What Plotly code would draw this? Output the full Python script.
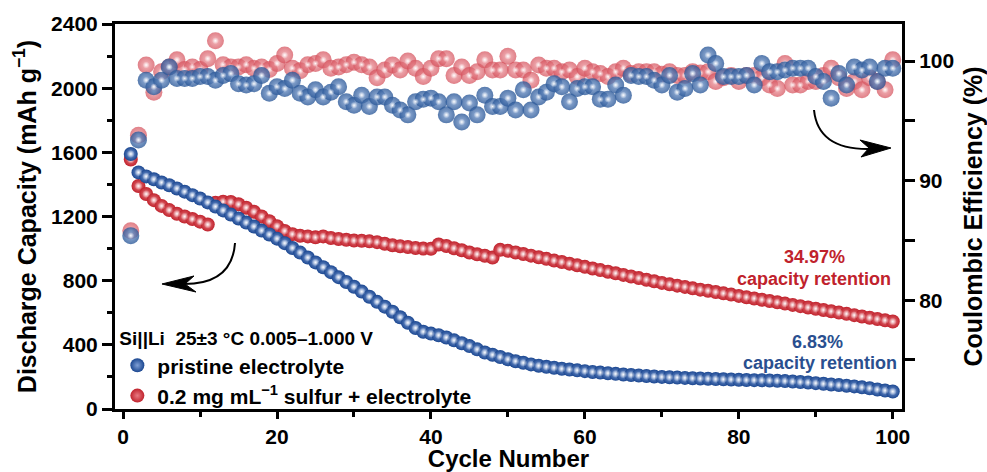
import plotly.graph_objects as go

# ---------------- data ----------------
cycles = list(range(1, 101))

cap_pristine = [
    1590, 1475, 1450, 1432, 1412, 1395, 1375, 1355, 1333, 1312,
    1288, 1262, 1238, 1212, 1188, 1162, 1138, 1112, 1088, 1062,
    1034, 1004, 975, 944, 914, 884, 853, 822, 792, 762,
    732, 700, 668, 638, 606, 572, 538, 505, 482, 470,
    460, 446, 428, 410, 392, 372, 352, 338, 324, 310,
    298, 288, 278, 270, 263, 257, 251, 246, 241, 236,
    231, 227, 223, 219, 215, 212, 209, 206, 203, 200,
    198, 196, 194, 192, 190, 189, 187, 185, 184, 182,
    181, 180, 179, 178, 176, 174, 171, 168, 165, 161,
    157, 153, 149, 145, 141, 135, 129, 122, 115, 109,
]

cap_sulfur = [
    1555, 1390, 1340, 1302, 1266, 1240, 1217, 1200, 1184, 1168,
    1150, 1285, 1292, 1290, 1276, 1255, 1230, 1200, 1170, 1140,
    1110, 1090, 1080, 1076, 1070, 1076, 1066, 1060, 1055, 1050,
    1049, 1045, 1040, 1030, 1021, 1015, 1010, 1004, 1000, 999,
    1025, 1016, 1002, 990, 976, 965, 955, 944, 992, 986,
    976, 966, 956, 946, 936, 925, 916, 906, 896, 886,
    876, 866, 856, 846, 836, 826, 816, 806, 796, 786,
    777, 769, 761, 752, 744, 737, 729, 721, 713, 705,
    697, 689, 681, 673, 665, 657, 649, 641, 633, 625,
    617, 609, 601, 593, 585, 577, 569, 561, 553, 545,
]

ce_pristine = [
    85.4, 93.4, 98.4, 97.85, 98.4, 99.5, 98.55, 98.55, 98.55, 98.7,
    98.7, 98.4, 98.8, 98.95, 98.1, 98.0, 98.1, 98.8, 97.3, 97.85,
    97.7, 98.4, 97.3, 97.0, 97.6, 97.0, 97.4, 97.85, 96.6, 96.3,
    97.15, 96.2, 97.0, 97.0, 96.3, 95.9, 95.5, 96.6, 96.8, 96.9,
    96.6, 95.5, 96.6, 94.9, 96.5, 95.5, 97.15, 96.2, 96.2, 96.9,
    95.9, 97.6, 95.9, 97.0, 97.4, 98.1, 97.85, 96.6, 97.7, 97.85,
    97.85, 96.8, 96.8, 98.0, 97.15, 98.8, 98.7, 98.7, 98.4, 98.0,
    98.8, 97.4, 97.7, 98.95, 98.0, 100.5, 99.8, 98.7, 98.7, 98.7,
    98.8, 98.0, 99.8, 99.1, 99.1, 99.25, 99.4, 99.4, 99.4, 98.7,
    98.3, 96.9, 98.95, 98.0, 99.5, 99.25, 99.5, 98.3, 99.4, 99.4,
]

ce_sulfur = [
    85.8, 93.8, 99.67, 97.4, 99.1, 99.5, 100.1, 99.3, 99.5, 99.3,
    100.2, 101.7, 99.7, 99.5, 99.5, 99.7, 99.4, 99.5, 99.3, 99.8,
    100.5, 99.4, 99.2, 99.7, 99.8, 100.1, 99.4, 99.5, 99.7, 99.9,
    99.7, 99.5, 98.6, 99.25, 99.67, 99.25, 100.0, 99.4, 98.7, 99.4,
    100.2, 100.2, 98.8, 99.5, 98.8, 99.1, 100.1, 99.25, 99.25, 100.4,
    99.25, 99.25, 98.4, 99.67, 99.4, 99.4, 99.1, 99.25, 98.7, 99.4,
    99.1, 98.95, 98.7, 99.1, 99.4, 98.95, 99.1, 99.1, 99.1, 98.9,
    99.1, 98.8, 98.8, 99.1, 99.0, 99.1, 98.3, 98.6, 98.8, 98.3,
    98.8, 98.8, 98.6, 98.0, 97.7, 99.8, 98.0, 98.0, 98.3, 98.3,
    98.8, 99.4, 98.6, 97.7, 98.3, 97.6, 98.6, 98.3, 97.6, 100.1,
]

x_ticks = [0, 20, 40, 60, 80, 100]
y_ticks = [0, 400, 800, 1200, 1600, 2000, 2400]
y2_ticks = [80, 90, 100]

# ---------------- style ----------------
BLUE_CAP = '#1a4690'
RED_CAP = '#c0222c'
BLUE_CE = '#2b5898'
RED_CE = '#d44e59'
FONT = 'Liberation Sans, Arial, sans-serif'

W, H = 987, 472
ML, MR, MT, MB = 115, 85, 24, 63
PW, PH = W - ML - MR, H - MT - MB


def px(x, y):
    """pixel position -> paper coordinates (for decorations only)"""
    return (x - ML) / PW, (H - MB - y) / PH


def path(points, cmd):
    s = ''
    for c, (x, y) in zip(cmd, points):
        xx, yy = px(x, y)
        s += f'{c} {xx:.4f},{yy:.4f} '
    return s.strip()


def highlight(x, y, size, yaxis='y'):
    return go.Scatter(
        x=x, y=y, yaxis=yaxis, mode='markers', showlegend=False, hoverinfo='skip',
        marker=dict(size=size, color='rgba(255,255,255,0)',
                    gradient=dict(type='radial', color='rgba(255,255,255,0.95)'),
                    line=dict(width=0)),
    )


fig = go.Figure()

# Coulombic efficiency (right axis)
fig.add_trace(go.Scatter(
    x=cycles, y=ce_sulfur, yaxis='y2', mode='markers', showlegend=False,
    marker=dict(size=17, color=RED_CE, opacity=0.72,
                gradient=dict(type='radial', color='#ee9aa1'),
                line=dict(width=0)),
))
fig.add_trace(highlight(cycles, ce_sulfur, 7, 'y2'))
fig.add_trace(go.Scatter(
    x=cycles, y=ce_pristine, yaxis='y2', mode='markers', showlegend=False,
    marker=dict(size=17, color=BLUE_CE, opacity=0.8,
                gradient=dict(type='radial', color='#7e9fd0'),
                line=dict(width=0)),
))
fig.add_trace(highlight(cycles, ce_pristine, 7, 'y2'))

# discharge capacity (left axis)
fig.add_trace(go.Scatter(
    x=cycles, y=cap_sulfur, mode='markers',
    name='0.2 mg mL<sup>\u22121</sup> sulfur + electrolyte', legendrank=2,
    marker=dict(size=14, color=RED_CAP,
                gradient=dict(type='radial', color='#e87a82'),
                line=dict(width=0)),
))
fig.add_trace(highlight(cycles, cap_sulfur, 8))
fig.add_trace(go.Scatter(
    x=cycles, y=cap_pristine, mode='markers',
    name='pristine electrolyte', legendrank=1,
    marker=dict(size=14, color=BLUE_CAP,
                gradient=dict(type='radial', color='#7f9fd6'),
                line=dict(width=0)),
))
fig.add_trace(highlight(cycles, cap_pristine, 8))

axis_common = dict(
    showline=True, linecolor='black', linewidth=3,
    ticks='outside', tickcolor='black', tickwidth=2.5,
    showgrid=False, zeroline=False, automargin=False,
    tickfont=dict(family=FONT, size=21, color='black', weight='bold'),
)

fig.update_layout(
    template='none',
    width=W, height=H,
    margin=dict(l=ML, r=MR, t=MT, b=MB),
    paper_bgcolor='white', plot_bgcolor='white',
    font=dict(family=FONT, color='black'),
    xaxis=dict(
        **axis_common, range=[-1.05, 101.2], tickvals=x_ticks, ticklen=7,
        mirror=True,
        minor=dict(tickvals=[10, 30, 50, 70, 90], ticks='outside', ticklen=5,
                   tickwidth=2.5, tickcolor='black'),
        title=dict(text='Cycle Number', standoff=0,
                   font=dict(family=FONT, size=24, color='black', weight='bold')),
    ),
    yaxis=dict(
        **axis_common, range=[0, 2400], tickvals=y_ticks, ticklen=10,
        minor=dict(tickvals=[200, 600, 1000, 1400, 1800, 2200], ticks='outside',
                   ticklen=5, tickwidth=2.5, tickcolor='black'),
        title=dict(text='Discharge Capacity (mAh g<sup>\u22121</sup>)', standoff=8,
                   font=dict(family=FONT, size=25, color='black', weight='bold')),
    ),
    yaxis2=dict(
        **axis_common, overlaying='y', side='right', range=[70.9, 103.1],
        tickvals=y2_ticks, ticklen=10,
        minor=dict(tickvals=[75, 85, 95], ticks='outside', ticklen=10,
                   tickwidth=2.5, tickcolor='black'),
        title=dict(text='Coulombic Efficiency (%)', standoff=14,
                   font=dict(family=FONT, size=25, color='black', weight='bold')),
    ),
    legend=dict(
        x=0.003, y=0.23, xanchor='left', yanchor='top',
        bgcolor='rgba(0,0,0,0)', borderwidth=0,
        font=dict(family=FONT, size=21, color='black', weight='bold'),
        title=dict(text='Si||Li\u00a0 25\u00b13 \u00b0C 0.005\u20131.000 V', side='top',
                   font=dict(family=FONT, size=19, color='black', weight='bold')),
        tracegroupgap=0, itemsizing='trace',
    ),
    showlegend=True,
)

# text annotations
ann_font = lambda c: dict(family=FONT, size=18, color=c, weight='bold')
for text, (x, y), col in [
    ('34.97%', (814, 257), RED_CAP),
    ('capacity retention', (814, 279), RED_CAP),
    ('6.83%', (817, 342), '#2a4f8f'),
    ('capacity retention', (820, 363), '#2a4f8f'),
]:
    xx, yy = px(x, y)
    fig.add_annotation(x=xx, y=yy, xref='paper', yref='paper', text=text,
                       showarrow=False, font=ann_font(col),
                       xanchor='center', yanchor='middle')

# curved arrows (decorations)
fig.add_shape(type='path', xref='paper', yref='paper',
              path=path([(235, 243), (232, 285), (182, 284)], ['M', 'Q', '']),
              line=dict(color='black', width=2))
fig.add_shape(type='path', xref='paper', yref='paper',
              path=path([(162, 284), (194, 276), (185, 284), (196, 292)], ['M', 'L', 'L', 'L']) + ' Z',
              fillcolor='black', line=dict(color='black', width=1))
fig.add_shape(type='path', xref='paper', yref='paper',
              path=path([(814, 110), (818, 150), (870, 149)], ['M', 'Q', '']),
              line=dict(color='black', width=2))
fig.add_shape(type='path', xref='paper', yref='paper',
              path=path([(891, 148), (860, 140), (869, 148), (861, 157)], ['M', 'L', 'L', 'L']) + ' Z',
              fillcolor='black', line=dict(color='black', width=1))

fig.write_html('out.html')
